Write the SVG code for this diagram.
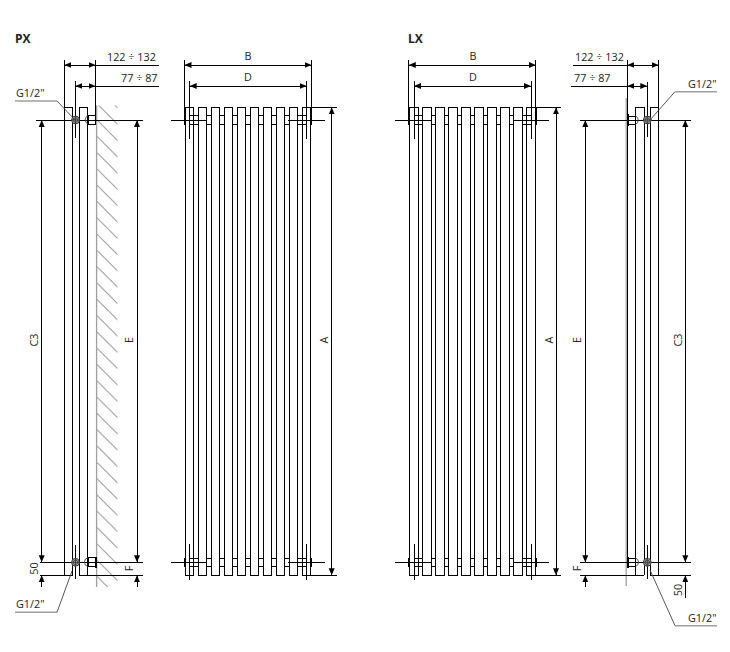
<svg xmlns="http://www.w3.org/2000/svg" width="730" height="652" viewBox="0 0 730 652">
<style>
.l{fill:none;stroke:#000;stroke-width:1;shape-rendering:crispEdges}
.t{fill:none;stroke:#000;stroke-width:2;shape-rendering:crispEdges}
.w{fill:none;stroke:#a0a0a0;stroke-width:1.3}
.h{fill:none;stroke:#aaa;stroke-width:1.2}
.g{fill:none;stroke:#a0a0a0;stroke-width:1.6}
.d{fill:none;stroke:#444;stroke-width:.9}
.v{fill:#aaa;stroke:#333;stroke-width:1}
.i{fill:none;stroke:#222;stroke-width:.7}
text{font-family:"Open Sans","Liberation Sans",sans-serif;font-size:10.8px;fill:#222}
.m{text-anchor:middle}
.b{font-weight:700;font-size:12px}
.ar{marker-start:url(#ah);marker-end:url(#ah)}
.a1{marker-end:url(#ah)}
</style>
<defs>
<marker id="ah" markerUnits="userSpaceOnUse" markerWidth="9" markerHeight="8" refX="7" refY="4" orient="auto-start-reverse"><path d="M0 1L7 4L0 7Z" fill="#000"/></marker>
<clipPath id="c1"><rect x="97" y="105.5" width="20.5" height="481.5"/></clipPath>
<clipPath id="c2"><rect x="97" y="94.5" width="20.5" height="487.5"/></clipPath>
<path id="hatch" class="h" d="M97 87.4l21 21M97 103.7l21 21M97 120l21 21M97 136.3l21 21M97 152.6l21 21M97 168.9l21 21M97 185.2l21 21M97 201.5l21 21M97 217.8l21 21M97 234.1l21 21M97 250.4l21 21M97 266.7l21 21M97 283l21 21M97 299.3l21 21M97 315.6l21 21M97 331.9l21 21M97 348.2l21 21M97 364.5l21 21M97 380.8l21 21M97 397.1l21 21M97 413.4l21 21M97 429.7l21 21M97 446l21 21M97 462.3l21 21M97 478.6l21 21M97 494.9l21 21M97 511.2l21 21M97 527.5l21 21M97 543.8l21 21M97 560.1l21 21M97 576.4l21 21"/>
<path id="cr" class="l" d="M189.7 0H198.3M206.7 0H211.3M219.7 0H224.3M232.7 0H237.3M245.7 0H250.3M258.7 0H263.3M271.7 0H276.3M284.7 0H289.3M297.7 0H306.7"/>
<g id="valve"><circle r="3.9" class="v"/><circle r="2.2" class="i"/><path class="i" d="M-4 0H4M0 -4V4"/></g>
<g id="front">
<rect class="l" x="185" y="107.3" width="8.7" height="468"/>
<rect class="l" x="198" y="107.3" width="8.7" height="468"/>
<rect class="l" x="211" y="107.3" width="8.7" height="468"/>
<rect class="l" x="224" y="107.3" width="8.7" height="468"/>
<rect class="l" x="237" y="107.3" width="8.7" height="468"/>
<rect class="l" x="250" y="107.3" width="8.7" height="468"/>
<rect class="l" x="263" y="107.3" width="8.7" height="468"/>
<rect class="l" x="276" y="107.3" width="8.7" height="468"/>
<rect class="l" x="289" y="107.3" width="8.7" height="468"/>
<rect class="l" x="302" y="107.3" width="8.7" height="468"/>
<use href="#cr" y="115"/><use href="#cr" y="124.7"/><use href="#cr" y="558"/><use href="#cr" y="566"/>
<path class="l" d="M184.5 60V125M311.5 60V125M189.7 81V139M306.7 81V139M189.7 544V580M306.7 544V580M171 120H207M288.3 120H325M171 562.3H207M288.3 562.3H325M311 107.3H337M311 575.3H337"/>
<path class="t" d="M184.7 107V125M311.3 107V125M184.7 558V567M311.3 558V567"/>
<path class="l ar" d="M184.5 65H311.5"/>
<path class="l ar" d="M189.7 86H306.7"/>
<path class="l ar" d="M331.7 107.3V575.3"/>
</g>
</defs>

<g id="px-side">
<path class="w" d="M96.6 105.5V587"/>
<g clip-path="url(#c1)"><use href="#hatch"/></g>
<path class="l" d="M64.3 60V575.3M72.7 107.3V575.3M64.3 107.3H72.7M79.3 107.3V575.3M79.3 107.3H87.3M87.3 107.3V575.3M75.3 81V138M75.3 545V579M95.5 60V124M36 120H143M40 562.3H143M40 575.3H72.7M79.3 575.3H143"/>
<path class="l" d="M88 115.7H95V124H88ZM88 557.7H95V566.5H88Z"/>
<path class="d" d="M88 115.7A4.5 4.5 0 0 0 88 124M88 557.7A4.5 4.5 0 0 0 88 566.5"/>
<path class="t" d="M95.7 556.5V567.5"/>
<use href="#valve" x="75.5" y="120"/><use href="#valve" x="75.5" y="562.3"/>
<path class="l ar" d="M64.3 65H95.5"/><path class="l" d="M95.5 65H159"/>
<path class="l ar" d="M75.3 86H95.5"/><path class="l" d="M95.5 86H159"/>
<path class="l ar" d="M41.7 120V562.3"/>
<path class="l ar" d="M137 120V562.3"/>
<path class="l a1" d="M41.7 587V575.3"/>
<path class="l a1" d="M137 587V575.3"/>
<path class="g" d="M15 101H57M15 612.3H57"/>
<path class="d" d="M57 101L75 120M57 612.3L72 571"/>
</g>

<g id="px-front"><use href="#front"/></g>
<g id="lx-front"><use href="#front" x="224.3"/></g>

<g id="lx-side">
<path class="w" d="M626.2 98V586"/>
<g clip-path="url(#c2)"><use href="#hatch" x="508.9" y="4"/></g>
<path class="l" d="M627.3 60V567M635.3 107.3V575.3M635.3 107.3H644.3M644.3 107.3V575.3M650.3 107.3V575.3M650.3 107.3H658.7M658.7 60V575.3M647.3 81.7V137M647.3 545V579M580 120H691M580 562.3H691M580 575.3H644.3M650.3 575.3H691"/>
<path class="l" d="M628 116H635.5V124.3H628ZM628 558H635.5V566.5H628Z"/>
<path class="d" d="M635.5 116A4.5 4.5 0 0 1 635.5 124.3M635.5 558A4.5 4.5 0 0 1 635.5 566.5"/>
<path class="t" d="M627.6 114V126M627.6 556.5V567.5"/>
<use href="#valve" x="647.3" y="120"/><use href="#valve" x="647.3" y="562.3"/>
<path class="l" d="M572.7 65H627.3"/><path class="l ar" d="M627.3 65H658.7"/>
<path class="l" d="M571 86H627.3"/><path class="l ar" d="M627.3 86H647.3"/>
<path class="l ar" d="M585.3 120V562.3"/>
<path class="l ar" d="M685.3 120V562.3"/>
<path class="l a1" d="M585.3 587V575.3"/>
<path class="l a1" d="M685.3 598V575.3"/>
<path class="g" d="M675 91.7H717M675 625.7H717"/>
<path class="d" d="M675 91.7L650 120M675 625.7L650 570"/>
</g>

<g id="labels">
<text class="b" x="15" y="43">PX</text>
<text class="b" x="408" y="43">LX</text>
<text x="107" y="61">122 ÷ 132</text>
<text x="121" y="82">77 ÷ 87</text>
<text x="575" y="61">122 ÷ 132</text>
<text x="574" y="82">77 ÷ 87</text>
<text x="16" y="97">G1/2"</text>
<text x="16" y="608">G1/2"</text>
<text x="688" y="88">G1/2"</text>
<text x="688" y="622">G1/2"</text>
<text class="m" x="248" y="60">B</text>
<text class="m" x="248" y="81">D</text>
<text class="m" x="473" y="60">B</text>
<text class="m" x="473" y="81">D</text>
<text class="m" transform="translate(37.5 340) rotate(-90)">C3</text>
<text class="m" transform="translate(133 340) rotate(-90)">E</text>
<text class="m" transform="translate(37.5 568.5) rotate(-90)">50</text>
<text class="m" transform="translate(133 568.5) rotate(-90)">F</text>
<text class="m" transform="translate(328 340) rotate(-90)">A</text>
<text class="m" transform="translate(553 340) rotate(-90)">A</text>
<text class="m" transform="translate(581 340) rotate(-90)">E</text>
<text class="m" transform="translate(581 568.5) rotate(-90)">F</text>
<text class="m" transform="translate(681.5 340) rotate(-90)">C3</text>
<text class="m" transform="translate(681.5 590) rotate(-90)">50</text>
</g>
</svg>
